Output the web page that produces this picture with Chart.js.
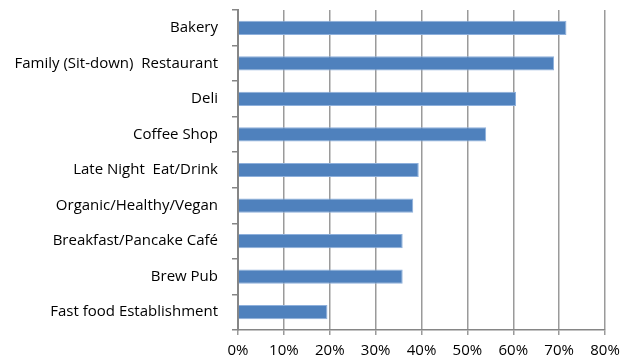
<!DOCTYPE html>
<html>
<head>
<meta charset="utf-8">
<script src="https://cdn.jsdelivr.net/npm/chart.js@4"></script>
<style>
  html, body { margin: 0; padding: 0; background: #fff; }
  #wrap { width: 621px; height: 362px; }
</style>
</head>
<body>
<div id="wrap"><canvas id="barChart" width="621" height="362"></canvas></div>
<script>
// venue types, top to bottom
const categories = [
  'Bakery',
  'Family (Sit-down)  Restaurant',
  'Deli',
  'Coffee Shop',
  'Late Night  Eat/Drink',
  'Organic/Healthy/Vegan',
  'Breakfast/Pancake Café',
  'Brew Pub',
  'Fast food Establishment'
];
// share of respondents, percent
const shares = [71.6, 68.9, 60.6, 54.1, 39.4, 38.2, 35.9, 35.9, 19.5];
const xTicks = [0, 10, 20, 30, 40, 50, 60, 70, 80];

const labelFont = { family: 'Open Sans', size: 15 };

const ctx = document.getElementById('barChart').getContext('2d');
new Chart(ctx, {
  type: 'bar',
  data: {
    labels: categories,
    datasets: [{
      data: shares,
      backgroundColor: '#4F81BD',
      borderColor: '#8EB0DC',
      borderWidth: 1,
      borderSkipped: 'start',
      categoryPercentage: 1,
      barPercentage: 0.4
    }]
  },
  options: {
    indexAxis: 'y',
    responsive: false,
    animation: false,
    layout: { padding: { top: 10, right: 16, left: 0, bottom: 0 } },
    plugins: { legend: { display: false }, tooltip: { enabled: false } },
    scales: {
      x: {
        min: xTicks[0],
        max: xTicks[xTicks.length - 1],
        afterBuildTicks: s => { s.ticks = xTicks.map(v => ({ value: v })); },
        afterFit: s => { s.height = 32; s.paddingLeft = 0; s.paddingRight = 0; },
        grid: { color: '#9A9A9A', lineWidth: 1.5, tickLength: 5, drawTicks: true },
        border: { color: '#868686', width: 1.5 },
        ticks: {
          color: '#000',
          padding: 7,
          font: labelFont,
          callback: v => v + '%'
        }
      },
      y: {
        afterFit: s => { s.width = 238; s.paddingTop = 0; s.paddingBottom = 0; },
        grid: { offset: true, drawOnChartArea: false, drawTicks: true, tickLength: 6, color: '#868686', lineWidth: 1.5 },
        border: { color: '#868686', width: 2 },
        ticks: {
          color: '#000',
          padding: 14,
          font: labelFont
        }
      }
    }
  }
});
</script>
</body>
</html>
